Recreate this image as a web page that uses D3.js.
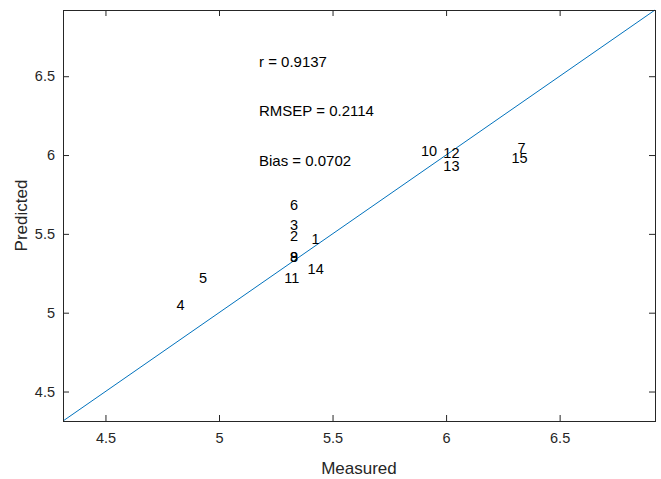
<!DOCTYPE html>
<html>
<head>
<meta charset="utf-8">
<script src="https://cdn.jsdelivr.net/npm/d3@7"></script>
<style>
  html, body { margin: 0; padding: 0; background: #fff; }
  svg { display: block; font-family: "Liberation Sans", Arial, Helvetica, sans-serif; }
</style>
</head>
<body>
<svg id="chart" width="661" height="479"></svg>
<script>
// ---- data ----
const sampleIds = ["1","2","3","4","5","6","7","8","9","10","11","12","13","14","15"];
const measured  = [5.407, 5.313, 5.313, 4.813, 4.912, 5.313, 6.314, 5.313, 5.313, 5.889, 5.287, 5.988, 5.988, 5.390, 6.288];
const predicted = [5.467, 5.486, 5.559, 5.049, 5.223, 5.683, 6.043, 5.356, 5.352, 6.027, 5.218, 6.016, 5.932, 5.275, 5.984];
const axisLimits = [4.313, 6.92];
const tickValues = [4.5, 5, 5.5, 6, 6.5];
const statLabels = ["r = 0.9137", "RMSEP = 0.2114", "Bias = 0.0702"];
const statY = [6.596, 6.281, 5.963];
const statX = 5.176;

// ---- layout ----
const svg = d3.select("#chart");
const L = 63, R = 655, T = 10, B = 421;
const axisColor = "#262626";

const x = d3.scaleLinear().domain(axisLimits).range([L, R]);
const y = d3.scaleLinear().domain(axisLimits).range([B, T]);

// identity line
svg.append("path")
  .datum(axisLimits)
  .attr("d", d3.line().x(d => x(d)).y(d => y(d)))
  .attr("fill", "none")
  .attr("stroke", "#0072BD")
  .attr("stroke-width", 1);

// axes (ticks inward, on all four sides)
const tl = 6;
const fmt = d => String(d);
const gB = svg.append("g").attr("transform", `translate(0,${B})`)
  .call(d3.axisBottom(x).tickValues(tickValues).tickFormat(fmt).tickSizeInner(-tl).tickSizeOuter(0).tickPadding(12));
const gT = svg.append("g").attr("transform", `translate(0,${T})`)
  .call(d3.axisTop(x).tickValues(tickValues).tickFormat("").tickSizeInner(-tl).tickSizeOuter(0));
const gL = svg.append("g").attr("transform", `translate(${L},0)`)
  .call(d3.axisLeft(y).tickValues(tickValues).tickFormat(fmt).tickSizeInner(-tl).tickSizeOuter(0).tickPadding(8));
const gR = svg.append("g").attr("transform", `translate(${R},0)`)
  .call(d3.axisRight(y).tickValues(tickValues).tickFormat("").tickSizeInner(-tl).tickSizeOuter(0));

[gB, gT, gL, gR].forEach(g => {
  g.select(".domain").remove();
  g.selectAll(".tick line").attr("stroke", axisColor).attr("stroke-width", 1);
  g.selectAll(".tick text").attr("fill", axisColor).attr("font-size", 14.5)
    .attr("font-family", '"Liberation Sans", Arial, sans-serif');
});

// box
svg.append("rect")
  .attr("x", L).attr("y", T).attr("width", R - L).attr("height", B - T)
  .attr("fill", "none").attr("stroke", axisColor).attr("stroke-width", 1)
  .attr("shape-rendering", "crispEdges");

// sample labels
svg.append("g").selectAll("text")
  .data(sampleIds)
  .join("text")
  .attr("x", (d, i) => x(measured[i]))
  .attr("y", (d, i) => y(predicted[i]))
  .attr("dominant-baseline", "central")
  .attr("font-size", 14.5)
  .attr("fill", "#000")
  .text(d => d);

// statistics
svg.append("g").selectAll("text")
  .data(statLabels)
  .join("text")
  .attr("x", x(statX))
  .attr("y", (d, i) => y(statY[i]))
  .attr("dominant-baseline", "central")
  .attr("font-size", 15)
  .attr("fill", "#000")
  .text(d => d);

// axis titles
svg.append("text")
  .attr("x", (L + R) / 2).attr("y", 468)
  .attr("text-anchor", "middle").attr("dominant-baseline", "central")
  .attr("font-size", 17).attr("fill", axisColor)
  .text("Measured");

svg.append("text")
  .attr("transform", `translate(21,${(T + B) / 2}) rotate(-90)`)
  .attr("text-anchor", "middle").attr("dominant-baseline", "central")
  .attr("font-size", 17).attr("fill", axisColor)
  .text("Predicted");
</script>
</body>
</html>
